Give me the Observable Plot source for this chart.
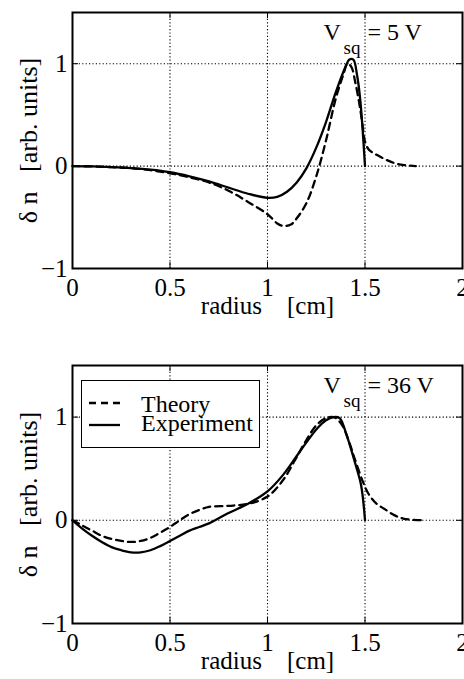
<!DOCTYPE html>
<html><head><meta charset="utf-8">
<script src="https://cdn.jsdelivr.net/npm/d3@7"></script>
<script src="https://cdn.jsdelivr.net/npm/@observablehq/plot@0.6"></script>
<style>
body{margin:0;background:#fff;}
#page{position:relative;width:464px;height:679px;font-family:"Liberation Serif","Times New Roman",serif;}
.panel{position:absolute;left:0;}
#legend{position:absolute;left:81px;top:380px;}
</style></head><body><div id="page"></div>
<script>
// ---- data ----
const xTicks = [0, 0.5, 1, 1.5, 2];
const xTickLabels = ["0", "0.5", "1", "1.5", "2"];
const yTicks = [-1, 0, 1];
const yTickLabels = ["−1", "0", "1"];
const xGrid = [0.5, 1, 1.5];
const yGrid = [0, 1];
const xLabel = "radius\u00a0\u00a0\u00a0\u00a0[cm]";
const yLabel = "δ n\u00a0\u00a0\u00a0[arb. units]";
const seriesNames = ["Theory", "Experiment"];

// Panel 1 : V_sq = 5 V
const p1Note = ["V", "sq", "= 5 V"];
const p1TheoryR = [0, 0.1, 0.2, 0.3, 0.4, 0.5, 0.6, 0.7, 0.8, 0.9, 1.0, 1.05, 1.08, 1.12, 1.15, 1.2, 1.25, 1.3, 1.35, 1.39, 1.41, 1.43, 1.45, 1.47, 1.48, 1.49, 1.5, 1.52, 1.55, 1.6, 1.65, 1.7, 1.76];
const p1TheoryN = [0, -0.003, -0.01, -0.02, -0.04, -0.07, -0.11, -0.16, -0.24, -0.35, -0.47, -0.56, -0.585, -0.57, -0.51, -0.36, -0.10, 0.25, 0.66, 0.90, 1.0, 0.97, 0.82, 0.62, 0.50, 0.36, 0.24, 0.16, 0.12, 0.07, 0.03, 0.01, 0];
const p1ExpR = [0, 0.1, 0.2, 0.3, 0.4, 0.5, 0.6, 0.7, 0.8, 0.9, 1.0, 1.05, 1.1, 1.15, 1.2, 1.25, 1.3, 1.35, 1.4, 1.42, 1.44, 1.46, 1.475, 1.487, 1.5];
const p1ExpN = [0, -0.003, -0.01, -0.02, -0.035, -0.06, -0.10, -0.15, -0.21, -0.27, -0.31, -0.30, -0.25, -0.16, -0.02, 0.18, 0.43, 0.72, 0.97, 1.04, 1.04, 0.88, 0.66, 0.38, 0];

// Panel 2 : V_sq = 36 V
const p2Note = ["V", "sq", "= 36 V"];
const p2TheoryR = [0, 0.05, 0.1, 0.15, 0.2, 0.25, 0.3, 0.35, 0.4, 0.45, 0.5, 0.55, 0.6, 0.65, 0.7, 0.8, 0.9, 1.0, 1.08, 1.14, 1.2, 1.25, 1.3, 1.34, 1.38, 1.42, 1.45, 1.49, 1.52, 1.56, 1.6, 1.65, 1.7, 1.8];
const p2TheoryN = [0, -0.05, -0.10, -0.15, -0.18, -0.20, -0.21, -0.20, -0.17, -0.12, -0.065, 0.0, 0.06, 0.10, 0.13, 0.14, 0.16, 0.23, 0.39, 0.58, 0.78, 0.92, 0.99, 1.0, 0.93, 0.75, 0.58, 0.37, 0.25, 0.16, 0.11, 0.05, 0.015, 0];
const p2ExpR = [0, 0.05, 0.1, 0.15, 0.2, 0.25, 0.3, 0.35, 0.4, 0.45, 0.5, 0.55, 0.6, 0.65, 0.7, 0.75, 0.8, 0.9, 1.0, 1.08, 1.16, 1.25, 1.3, 1.34, 1.37, 1.4, 1.45, 1.48, 1.5];
const p2ExpN = [0, -0.08, -0.15, -0.21, -0.26, -0.29, -0.31, -0.31, -0.29, -0.25, -0.20, -0.15, -0.10, -0.065, -0.03, 0.02, 0.07, 0.16, 0.28, 0.44, 0.65, 0.88, 0.97, 1.0, 0.99, 0.86, 0.55, 0.34, 0];

// ---- drawing ----
const W = 464, ML = 72, MR = 2;
const FONT = '"Liberation Serif","Times New Roman",serif';
const zip = (xs, ys) => xs.map((x, i) => ({r: x, n: ys[i]}));

function panel({height, marginTop, marginBottom, theory, exp, note}) {
  const innerH = height - marginTop - marginBottom;
  const innerW = W - ML - MR;
  return Plot.plot({
    width: W, height, marginLeft: ML, marginRight: MR, marginTop, marginBottom,
    style: {fontFamily: FONT, fontSize: "25px", background: "white", color: "black"},
    x: {domain: [0, 2], label: null},
    y: {domain: [-1, 1.5], label: null},
    marks: [
      Plot.ruleX(xGrid, {x: d => d, stroke: "black", strokeWidth: 1.1, strokeDasharray: "1.2,2.2"}),
      Plot.ruleY(yGrid, {y: d => d, stroke: "black", strokeWidth: 1.1, strokeDasharray: "1.2,2.2"}),
      Plot.line(theory, {x: "r", y: "n", curve: "catmull-rom", stroke: "black", strokeWidth: 2.3, strokeDasharray: "7,5"}),
      Plot.line(exp, {x: "r", y: "n", curve: "catmull-rom", stroke: "black", strokeWidth: 2.3}),
      Plot.tickX(xTicks, {x: d => d, insetTop: innerH - 6, stroke: "black"}),
      Plot.tickX(xTicks, {x: d => d, insetBottom: innerH - 6, stroke: "black"}),
      Plot.tickY(yTicks, {y: d => d, insetRight: innerW - 6, stroke: "black"}),
      Plot.tickY(yTicks, {y: d => d, insetLeft: innerW - 6, stroke: "black"}),
      Plot.frame({stroke: "black", strokeWidth: 2}),
      Plot.axisX({ticks: xTicks, tickFormat: d => xTickLabels[xTicks.indexOf(d)], tickSize: 0, tickPadding: 10, label: null}),
      Plot.axisY({ticks: yTicks, tickFormat: d => yTickLabels[yTicks.indexOf(d)], tickSize: 0, tickPadding: 5, label: null}),
      Plot.text([xLabel], {text: d => d, frameAnchor: "bottom", textAnchor: "middle", dy: 45, fill: "black"}),
      Plot.text([yLabel], {text: d => d, frameAnchor: "left", textAnchor: "middle", lineAnchor: "middle", dx: -44, rotate: -90, fontSize: 26, fill: "black"}),
      Plot.text([note[0]], {text: d => d, frameAnchor: "top-left", textAnchor: "start", lineAnchor: "bottom", dx: 251, dy: 27, fontSize: 24, fill: "black"}),
      Plot.text([note[1]], {text: d => d, frameAnchor: "top-left", textAnchor: "start", lineAnchor: "bottom", dx: 271, dy: 41, fontSize: 19, fill: "black"}),
      Plot.text([note[2]], {text: d => d, frameAnchor: "top-left", textAnchor: "start", lineAnchor: "bottom", dx: 295, dy: 27, fontSize: 24, fill: "black"})
    ]
  });
}

const page = document.getElementById("page");

const top1 = document.createElement("div");
top1.className = "panel"; top1.style.top = "0px";
top1.append(panel({height: 340, marginTop: 12, marginBottom: 72, theory: zip(p1TheoryR, p1TheoryN), exp: zip(p1ExpR, p1ExpN), note: p1Note}));
page.append(top1);

const bot = document.createElement("div");
bot.className = "panel"; bot.style.top = "340px";
bot.append(panel({height: 339, marginTop: 25, marginBottom: 56, theory: zip(p2TheoryR, p2TheoryN), exp: zip(p2ExpR, p2ExpN), note: p2Note}));
page.append(bot);

// legend (inside lower panel)
const lg = d3.create("svg").attr("id", "legend").attr("width", 179).attr("height", 68)
  .style("font-family", FONT).style("font-size", "24px");
lg.append("rect").attr("x", 0.5).attr("y", 0.5).attr("width", 178).attr("height", 67)
  .attr("fill", "white").attr("stroke", "black").attr("stroke-width", 1);
const styles = [{dash: "7,5", ly: 23, ty: 32}, {dash: null, ly: 45, ty: 51}];
seriesNames.forEach((name, i) => {
  const s = styles[i];
  lg.append("line").attr("x1", 8).attr("x2", 39).attr("y1", s.ly).attr("y2", s.ly)
    .attr("stroke", "black").attr("stroke-width", 2.3).attr("stroke-dasharray", s.dash);
  lg.append("text").attr("x", 60).attr("y", s.ty).attr("fill", "black").text(name);
});
page.append(lg.node());
</script>
</body></html>
